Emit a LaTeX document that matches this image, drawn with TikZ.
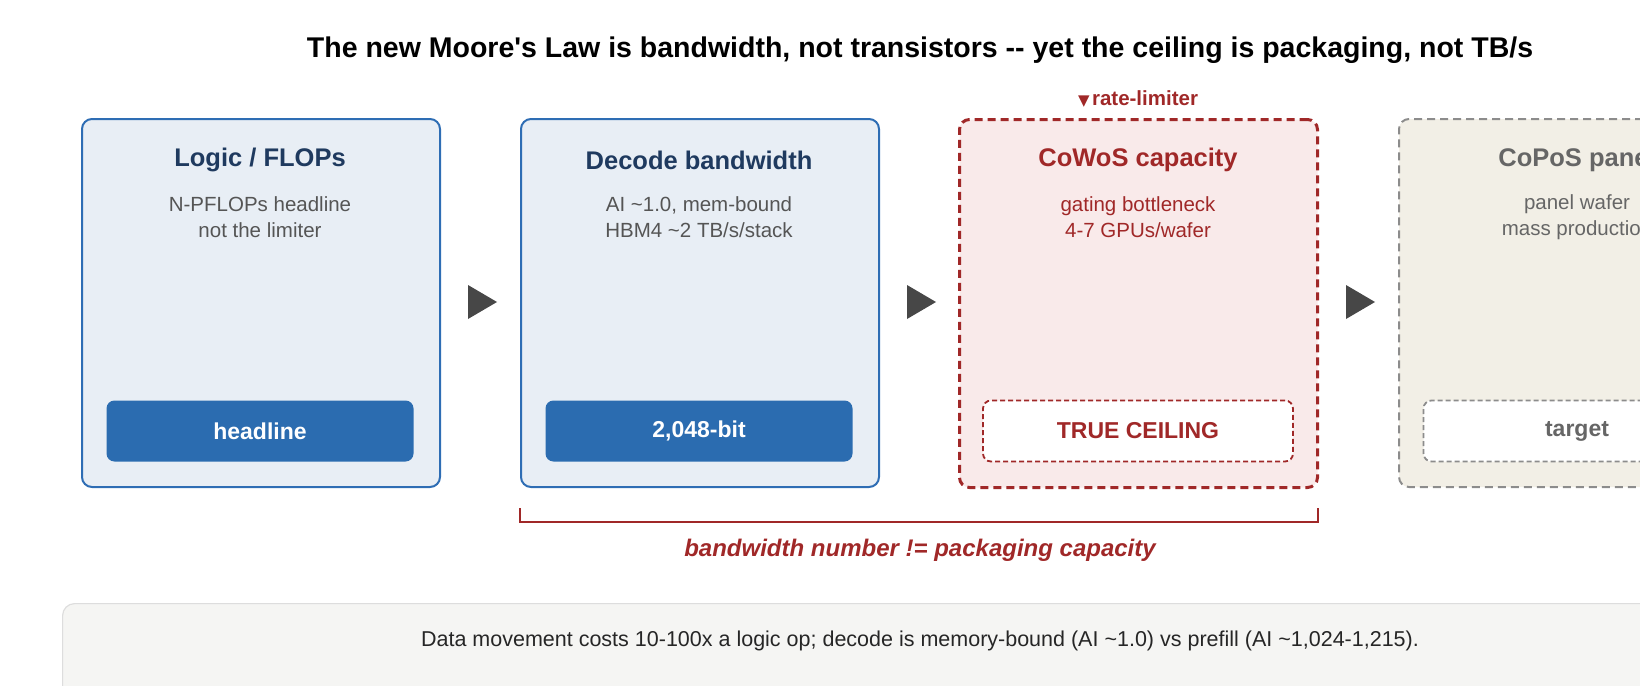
\documentclass[tikz,border=0pt]{standalone}
\usepackage{fontspec}
\setmainfont{Liberation Sans}
\usetikzlibrary{calc}
\definecolor{bB}{HTML}{2E6DB4}\definecolor{bF}{HTML}{E8EEF5}\definecolor{bT}{HTML}{1F3A5F}
\definecolor{bBtn}{HTML}{2B6CB0}\definecolor{rB}{HTML}{A02828}\definecolor{rF}{HTML}{F9EAEA}
\definecolor{gB}{HTML}{8C8C8C}\definecolor{gF}{HTML}{F2EFE6}\definecolor{gT}{HTML}{666666}
\definecolor{txt}{HTML}{555555}\definecolor{pF}{HTML}{F5F5F3}\definecolor{pB}{HTML}{DDDDDD}
\begin{document}
\begin{tikzpicture}[x=1pt,y=-1pt,
 box/.style={rounded corners=10pt,minimum width=358pt,minimum height=368pt,anchor=north west,line width=2pt},
 btn/.style={rounded corners=8pt,minimum width=307pt,minimum height=61pt,font=\bfseries\fontsize{23}{26}\selectfont},
 ttl/.style={font=\bfseries\fontsize{25.5}{30}\selectfont},
 sub/.style={font=\fontsize{20.5}{26}\selectfont,align=center},
 arr/.style={fill=black!72}]
\useasboundingbox (0,0) rectangle (1640,685);
\clip (0,0) rectangle (1640,685);
\node[font=\bfseries\fontsize{28.5}{32}\selectfont] (title) at (920,50) {The new Moore\textquotesingle s Law is bandwidth, not transistors {-}{-} yet the ceiling is packaging, not TB/s};
% boxes
\node[box,draw=bB,fill=bF] (b1) at (81,118) {};
\node[box,draw=bB,fill=bF] (b2) at (520,118) {};
\node[box,draw=rB,fill=rF,dash pattern=on 8pt off 5pt,line width=3pt] (b3) at (958,118) {};
\node[box,draw=gB,fill=gF,dash pattern=on 8pt off 5pt] (b4) at (1398,118) {};
\node[ttl,text=bT] at (260,160) {Logic / FLOPs};
\node[sub,text=txt] at (260,217) {N-PFLOPs headline\\not the limiter};
\node[btn,fill=bBtn,text=white] (h1) at (260,431) {headline};
\node[ttl,text=bT] at (699,160) {Decode bandwidth};
\node[sub,text=txt] at (699,217) {AI \textasciitilde1.0, mem-bound\\HBM4 \textasciitilde2 TB/s/stack};
\node[btn,fill=bBtn,text=white] (h2) at (699,431) {2,048-bit};
\node[ttl,text=rB] at (1138,160) {CoWoS capacity};
\node[sub,text=rB] at (1138,217) {gating bottleneck\\4-7 GPUs/wafer};
\node[btn,draw=rB,fill=white,text=rB,dash pattern=on 5pt off 3pt,line width=1.8pt,minimum width=310pt] (h3) at (1138,431) {TRUE CEILING};
\node[text=rB] (rl) at (1138,99) {\fontspec{DejaVu Sans}\fontsize{15}{18}\selectfont▼\,\fontspec{Liberation Sans}\bfseries\fontsize{20.5}{24}\selectfont rate-limiter};
\node[ttl,text=gT] at (1577,160) {CoPoS panel};
\node[sub,text=gT] at (1577,217) {panel wafer\\mass production};
\node[btn,draw=gB,fill=white,text=gT,dash pattern=on 5pt off 3pt,line width=1.8pt] (h4) at (1577,431) {target};
% arrows
\foreach \x in {468,907,1346}{\fill[arr] (\x,285) -- (\x+29,302) -- (\x,319) -- cycle;}
% bracket
\coordinate (bl) at (520,508); \coordinate (br) at (1318,508);
\draw[rB,line width=1.5pt] (bl) -- ++(0,14) -| (br);
\node[font=\bfseries\itshape\fontsize{24}{28}\selectfont,text=rB] (bt) at (920,550) {bandwidth number != packaging capacity};
% panel
\node[draw=pB,fill=pF,rounded corners=12pt,line width=1.2pt,minimum width=1700pt,minimum height=150pt,anchor=north west] (pn) at (62,603) {};
\node[font=\fontsize{21.5}{24}\selectfont,text=black!85] at (920,641) {Data movement costs 10-100x a logic op; decode is memory-bound (AI \textasciitilde1.0) vs prefill (AI \textasciitilde1,024-1,215).};
\end{tikzpicture}
\end{document}
